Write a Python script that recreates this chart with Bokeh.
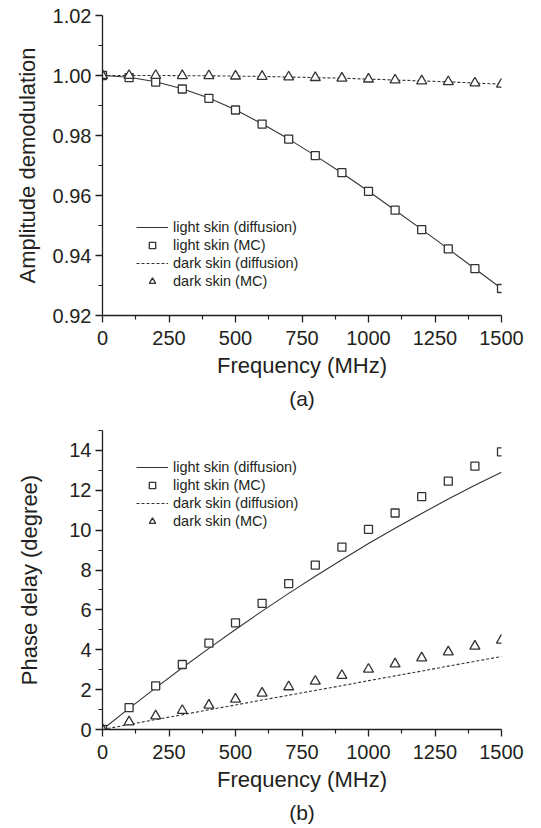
from bokeh.plotting import figure
from bokeh.layouts import column
from bokeh.models import (Range1d, FixedTicker, PrintfTickFormatter, Legend, LegendItem, Title)
from bokeh.embed import file_html
from bokeh.resources import INLINE

# ---------------- data ----------------
freq = [0, 100, 200, 300, 400, 500, 600, 700, 800, 900, 1000, 1100, 1200, 1300, 1400, 1500]

amp_light_diff = [1.0000, 0.9994, 0.9979, 0.9956, 0.9925, 0.9886, 0.9839, 0.9788, 0.9733,
                  0.9675, 0.9614, 0.9551, 0.9487, 0.9422, 0.9356, 0.9290]
amp_light_mc = [1.0000, 0.9993, 0.9978, 0.9955, 0.9924, 0.9885, 0.9838, 0.9788, 0.9733,
                0.9676, 0.9614, 0.9551, 0.9486, 0.9422, 0.9356, 0.9290]
amp_dark_diff = [1.0000, 1.0000, 1.0000, 0.99995, 0.9999, 0.9998, 0.9997, 0.9995, 0.9993,
                 0.9991, 0.9988, 0.9985, 0.9982, 0.9979, 0.9975, 0.9971]
amp_dark_mc = [1.0000, 1.0000, 1.0000, 0.99995, 0.9999, 0.9998, 0.9997, 0.9995, 0.9993,
               0.9991, 0.9988, 0.9985, 0.9982, 0.9979, 0.9975, 0.9971]

phase_light_diff = [0, 1.06, 2.09, 3.10, 4.07, 5.02, 5.94, 6.83, 7.69, 8.52, 9.33,
                    10.10, 10.84, 11.56, 12.25, 12.91]
phase_light_mc = [0, 1.10, 2.19, 3.26, 4.33, 5.35, 6.33, 7.32, 8.25, 9.15, 10.04,
                  10.86, 11.68, 12.46, 13.21, 13.93]
phase_dark_diff = [0, 0.25, 0.50, 0.74, 0.99, 1.23, 1.48, 1.72, 1.96, 2.20, 2.45,
                   2.69, 2.93, 3.18, 3.42, 3.66]
phase_dark_mc = [0, 0.38, 0.68, 0.95, 1.22, 1.52, 1.82, 2.14, 2.42, 2.71, 3.02,
                 3.29, 3.59, 3.89, 4.18, 4.48]

x_major = [0, 250, 500, 750, 1000, 1250, 1500]
x_minor = [125, 375, 625, 875, 1125, 1375]
amp_major = [0.92, 0.94, 0.96, 0.98, 1.00, 1.02]
amp_minor = [0.93, 0.95, 0.97, 0.99, 1.01]
phase_major = [0, 2, 4, 6, 8, 10, 12, 14]
phase_minor = [1, 3, 5, 7, 9, 11, 13, 15]

labels = ["light skin (diffusion)", "light skin (MC)", "dark skin (diffusion)", "dark skin (MC)"]

FONT = "Liberation Sans"
INK = "#231f20"
LINE = "#333333"


def style(p, xt, xm, yt, ym, ylabel, left_standoff):
    p.outline_line_color = None
    p.xgrid.visible = False
    p.ygrid.visible = False
    p.xaxis.ticker = FixedTicker(ticks=xt, minor_ticks=xm)
    p.yaxis.ticker = FixedTicker(ticks=yt, minor_ticks=ym)
    for ax in (p.xaxis[0], p.yaxis[0]):
        ax.axis_line_color = INK
        ax.axis_line_width = 1.3
        ax.major_tick_line_color = INK
        ax.major_tick_line_width = 1.3
        ax.minor_tick_line_color = INK
        ax.minor_tick_line_width = 1.2
        ax.major_tick_in = 0
        ax.major_tick_out = 7
        ax.minor_tick_in = 0
        ax.minor_tick_out = 4
        ax.major_label_text_font = FONT
        ax.major_label_text_font_size = "20px"
        ax.major_label_text_color = INK
        ax.axis_label_text_font = FONT
        ax.axis_label_text_font_size = "22px"
        ax.axis_label_text_font_style = "normal"
        ax.axis_label_text_color = INK
    p.xaxis.major_label_standoff = 8
    p.yaxis.major_label_standoff = 4
    p.xaxis.axis_label = "Frequency (MHz)"
    p.xaxis.axis_label_standoff = 5
    p.yaxis.axis_label = ylabel
    p.yaxis.axis_label_standoff = left_standoff


def add_series(p, ld, lm, dd, dm, loc):
    r1 = p.line(freq, ld, line_color=LINE, line_width=1.1)
    r2 = p.scatter(freq, lm, marker="square", size=8, line_color=LINE, line_width=1.3,
                   fill_color="white")
    r3 = p.line(freq, dd, line_color=LINE, line_width=1.1, line_dash="3 2")
    r4 = p.scatter(freq, dm, marker="triangle", size=10, line_color=LINE, line_width=1.3,
                   fill_color="white")
    leg = Legend(items=[LegendItem(label=labels[0], renderers=[r1]),
                        LegendItem(label=labels[1], renderers=[r2]),
                        LegendItem(label=labels[2], renderers=[r3]),
                        LegendItem(label=labels[3], renderers=[r4])],
                 location=loc)
    leg.border_line_color = None
    leg.background_fill_alpha = 0
    leg.padding = 0
    leg.margin = 0
    leg.spacing = 2
    leg.glyph_width = 32
    leg.glyph_height = 16
    leg.label_height = 16
    leg.label_standoff = 5
    leg.label_text_font = FONT
    leg.label_text_font_size = "14.5px"
    leg.label_text_color = INK
    leg.label_text_baseline = "middle"
    p.add_layout(leg, "center")


def add_caption(p, text):
    t = Title(text=text, align="center", offset=-10, standoff=8,
              text_font=FONT, text_font_size="21px", text_font_style="normal",
              text_color=INK)
    p.add_layout(t, "below")


# ---------------- (a) ----------------
pa = figure(width=541, height=420, output_backend="svg", toolbar_location=None,
            x_range=Range1d(0, 1500), y_range=Range1d(0.92, 1.02),
            min_border_left=102, min_border_right=29, min_border_top=15, min_border_bottom=105)
style(pa, x_major, x_minor, amp_major, amp_minor, "Amplitude demodulation", 10)
pa.yaxis.formatter = PrintfTickFormatter(format="%.2f")
add_series(pa, amp_light_diff, amp_light_mc, amp_dark_diff, amp_dark_mc, (34, 26))
add_caption(pa, "(a)")

# ---------------- (b) ----------------
pb = figure(width=541, height=408, output_backend="svg", toolbar_location=None,
            x_range=Range1d(0, 1500), y_range=Range1d(0, 15),
            min_border_left=93, min_border_right=40, min_border_top=10, min_border_bottom=99)
style(pb, x_major, x_minor, phase_major, phase_minor, "Phase delay (degree)", 24)
add_series(pb, phase_light_diff, phase_light_mc, phase_dark_diff, phase_dark_mc, (34, 200))
add_caption(pb, "(b)")

layout = column(pa, pb, spacing=0)
open("out.html", "w").write(file_html(layout, INLINE))
